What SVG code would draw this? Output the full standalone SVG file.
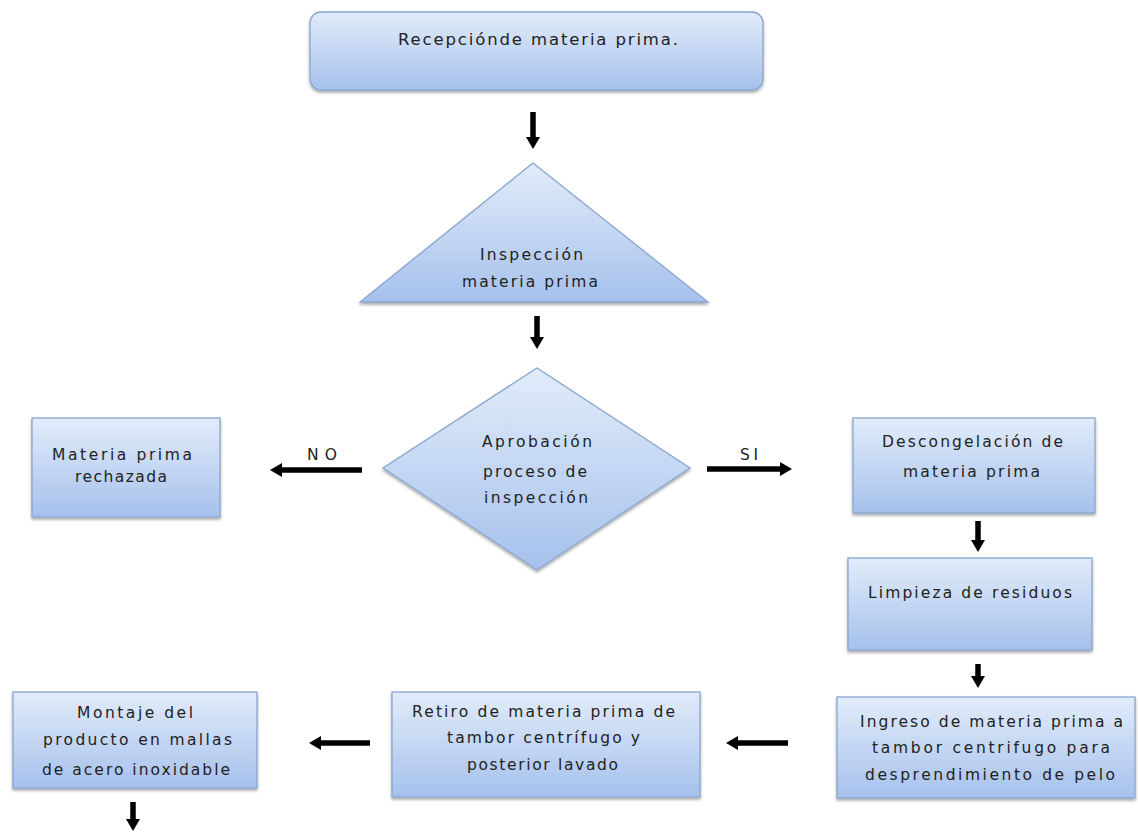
<svg xmlns="http://www.w3.org/2000/svg" width="1138" height="833" viewBox="0 0 1138 833">
<defs>
<linearGradient id="g" x1="0" y1="0" x2="0" y2="1">
<stop offset="0" stop-color="#e2ecfa"/>
<stop offset="1" stop-color="#a6c1ec"/>
</linearGradient>
<filter id="sh" x="-10%" y="-10%" width="120%" height="130%">
<feDropShadow dx="0" dy="2" stdDeviation="1.5" flood-color="#000" flood-opacity="0.35"/>
</filter>
<marker id="ah" markerUnits="userSpaceOnUse" markerWidth="14" markerHeight="16" refX="2" refY="8" orient="auto">
<path d="M0,1 L12,8 L0,15 Z" fill="#000"/>
</marker>
</defs>
<style>
.n{fill:url(#g);stroke:#8aa5cf;stroke-width:1.3;filter:url(#sh)}
.t{font-family:"DejaVu Sans","Liberation Sans",sans-serif;font-size:15.5px;fill:#222}
.big{font-size:16.5px}
.c{stroke:#000;stroke-width:5.5;fill:none;marker-end:url(#ah)}
</style>
<rect width="1138" height="833" fill="#fff"/>
<g id="n-recepcion">
<rect class="n" x="310" y="12" width="453" height="78" rx="11"/>
<text class="t big" x="398" y="45" textLength="280" lengthAdjust="spacing">Recepciónde materia prima.</text>
</g>
<g id="n-inspeccion">
<polygon class="n" points="533,163 360,302 708,302"/>
<text class="t" x="480" y="260" textLength="103" lengthAdjust="spacing">Inspección</text>
<text class="t" x="462" y="287" textLength="136" lengthAdjust="spacing">materia prima</text>
</g>
<g id="n-aprobacion">
<polygon class="n" points="537,368 690,468 537,570 383,468"/>
<text class="t" x="482" y="447" textLength="110" lengthAdjust="spacing">Aprobación</text>
<text class="t" x="483" y="477" textLength="104" lengthAdjust="spacing">proceso de</text>
<text class="t" x="484" y="503" textLength="104" lengthAdjust="spacing">inspección</text>
</g>
<g id="n-rechazada">
<rect class="n" x="32" y="418" width="188" height="99"/>
<text class="t" x="52" y="460" textLength="140" lengthAdjust="spacing">Materia prima</text>
<text class="t" x="75" y="482" textLength="92" lengthAdjust="spacing">rechazada</text>
</g>
<g id="n-descongelacion">
<rect class="n" x="853" y="418" width="242" height="95"/>
<text class="t" x="882" y="447" textLength="181" lengthAdjust="spacing">Descongelación de</text>
<text class="t" x="903" y="477" textLength="137" lengthAdjust="spacing">materia prima</text>
</g>
<g id="n-limpieza">
<rect class="n" x="848" y="558" width="244" height="92"/>
<text class="t" x="868" y="598" textLength="204" lengthAdjust="spacing">Limpieza de residuos</text>
</g>
<g id="n-ingreso">
<rect class="n" x="837" y="697" width="298" height="101"/>
<text class="t" x="860" y="727" textLength="263" lengthAdjust="spacing">Ingreso de materia prima a</text>
<text class="t" x="872" y="753" textLength="238" lengthAdjust="spacing">tambor centrifugo para</text>
<text class="t" x="865" y="780" textLength="250" lengthAdjust="spacing">desprendimiento de pelo</text>
</g>
<g id="n-retiro">
<rect class="n" x="392" y="692" width="308" height="105"/>
<text class="t" x="412" y="717" textLength="263" lengthAdjust="spacing">Retiro de materia prima de</text>
<text class="t" x="447" y="743" textLength="193" lengthAdjust="spacing">tambor centrífugo y</text>
<text class="t" x="467" y="770" textLength="151" lengthAdjust="spacing">posterior lavado</text>
</g>
<g id="n-montaje">
<rect class="n" x="13" y="692" width="244" height="96"/>
<text class="t" x="77" y="718" textLength="116" lengthAdjust="spacing">Montaje del</text>
<text class="t" x="43" y="745" textLength="189" lengthAdjust="spacing">producto en mallas</text>
<text class="t" x="42" y="775" textLength="188" lengthAdjust="spacing">de acero inoxidable</text>
</g>
<g id="connectors">
<line class="c" x1="533" y1="112" x2="533" y2="139"/>
<line class="c" x1="537" y1="316" x2="537" y2="339"/>
<line class="c" x1="362" y1="470" x2="280" y2="470"/>
<line class="c" x1="707" y1="469" x2="782" y2="469"/>
<line class="c" x1="978" y1="521" x2="978" y2="542"/>
<line class="c" x1="978" y1="664" x2="978" y2="678"/>
<line class="c" x1="788" y1="743" x2="736" y2="743"/>
<line class="c" x1="370" y1="743" x2="319" y2="743"/>
<line class="c" x1="133" y1="802" x2="133" y2="821"/>
<text class="t" x="307" y="460" textLength="30" lengthAdjust="spacing">NO</text>
<text class="t" x="740" y="460" textLength="18" lengthAdjust="spacing">SI</text>
</g>
</svg>
